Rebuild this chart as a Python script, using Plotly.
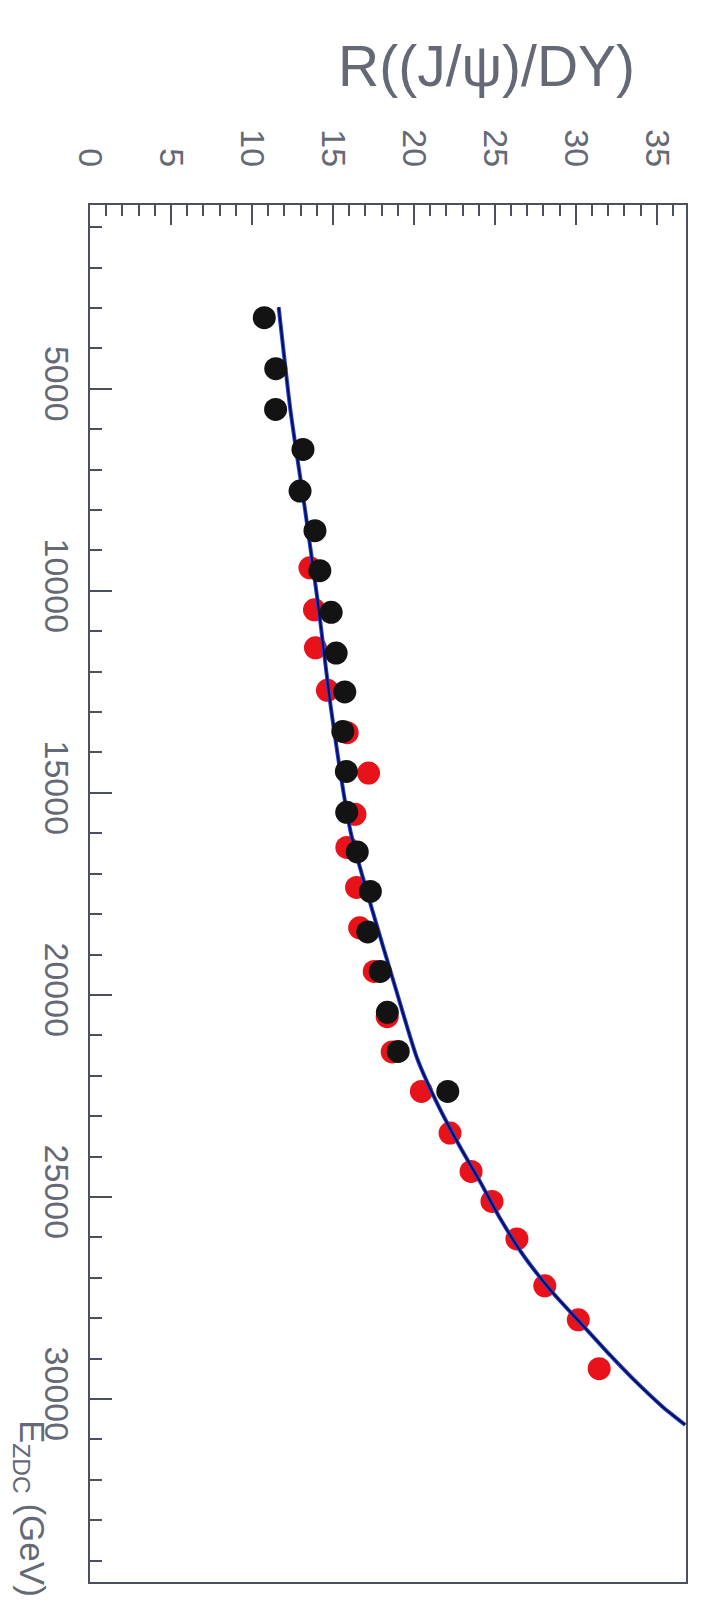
import plotly.graph_objects as go

# ---- data read from the (rotated) picture ----
# black points: E_ZDC (GeV), R((J/psi)/DY)
black_E = [3240, 4500, 5510, 6500, 7530, 8510, 9500, 10530, 11540, 12500,
           13480, 14470, 15480, 16460, 17440, 18440, 19420, 20430, 21400, 22390]
black_R = [10.76, 11.47, 11.46, 13.15, 12.97, 13.89, 14.19, 14.89, 15.20, 15.73,
           15.61, 15.83, 15.85, 16.50, 17.31, 17.15, 17.92, 18.36, 19.03, 22.09]

# red points
red_E = [9430, 10470, 11410, 12460, 13510, 14510, 15530, 16350, 17340, 18340,
         19420, 20540, 21410, 22390, 23420, 24370, 25110, 26040, 27200, 28040, 29250]
red_R = [13.58, 13.86, 13.92, 14.66, 15.88, 17.20, 16.36, 15.86, 16.46, 16.65,
         17.55, 18.35, 18.66, 20.46, 22.23, 23.53, 24.82, 26.36, 28.08, 30.15, 31.44]

# fitted curve
curve_E = [2980, 5540, 8110, 10350, 13000, 15980, 17890, 19810, 21560, 22730,
           23740, 24670, 25510, 26480, 27370, 28140, 28910, 29510, 30190, 30640]
curve_R = [11.65, 12.38, 13.32, 14.09, 14.91, 16.10, 17.42, 18.85, 20.19, 21.49,
           22.82, 24.15, 25.29, 26.82, 28.57, 30.34, 32.10, 33.55, 35.35, 36.75]

R_ticks = [0, 5, 10, 15, 20, 25, 30, 35]
E_ticks = [5000, 10000, 15000, 20000, 25000, 30000]

R_title = "R((J/\u03c8)/DY)"
E_title = "E<sub>ZDC</sub> (GeV)"

FONT = "Liberation Sans, Arial, sans-serif"
GREY = "#646975"
AXC = "#4b505c"

fig = go.Figure()

fig.add_trace(go.Scatter(
    x=red_R, y=red_E, mode="markers",
    marker=dict(color="#e8121b", size=23, line=dict(width=0)),
    showlegend=False))

fig.add_trace(go.Scatter(
    x=curve_R, y=curve_E, mode="lines",
    line=dict(color="#2244e6", width=4, shape="spline", smoothing=0.6),
    showlegend=False))
fig.add_trace(go.Scatter(
    x=curve_R, y=curve_E, mode="lines",
    line=dict(color="#0c0d4a", width=2, shape="spline", smoothing=0.6),
    showlegend=False))

fig.add_trace(go.Scatter(
    x=black_R, y=black_E, mode="markers",
    marker=dict(color="#131313", size=23, line=dict(width=0)),
    showlegend=False))

W, H = 726, 1603
L, Rr, T, B = 82, 678, 197, 1574
pw, ph = Rr - L, B - T

fig.update_layout(
    width=W, height=H, autosize=False,
    margin=dict(l=L, r=W - Rr, t=T, b=H - B, pad=0),
    paper_bgcolor="white", plot_bgcolor="white",
    font=dict(family=FONT, color=GREY),
    xaxis=dict(
        side="top", range=[0, 36.8], tickvals=R_ticks,
        ticktext=[str(v) for v in R_ticks],
        tickangle=90, tickfont=dict(size=34, color=GREY, family=FONT),
        ticks="inside", ticklen=20, tickwidth=2, tickcolor=AXC,
        minor=dict(dtick=1, tick0=0, ticks="inside", ticklen=11, tickwidth=2, tickcolor=AXC),
        showline=True, mirror=True, linecolor=AXC, linewidth=2,
        showgrid=False, zeroline=False, ticklabelstandoff=24,
    ),
    yaxis=dict(
        range=[34530, 450], tickvals=E_ticks,
        ticktext=[str(v) for v in E_ticks],
        tickangle=90, tickfont=dict(size=34, color=GREY, family=FONT),
        ticks="inside", ticklen=22, tickwidth=2, tickcolor=AXC,
        minor=dict(dtick=1000, tick0=0, ticks="inside", ticklen=12, tickwidth=2, tickcolor=AXC),
        showline=True, mirror=True, linecolor=AXC, linewidth=2,
        showgrid=False, zeroline=False, ticklabelstandoff=2,
    ),
    annotations=[
        dict(text=R_title, xref="paper", yref="paper",
             x=(478 - L) / pw, y=(B - 58) / ph, showarrow=False,
             xanchor="center", yanchor="middle",
             font=dict(size=57, color=GREY, family=FONT)),
        dict(text=E_title, xref="paper", yref="paper",
             x=(22 - L) / pw, y=(B - 1500) / ph, showarrow=False,
             xanchor="center", yanchor="middle", textangle=90,
             font=dict(size=35, color=GREY, family=FONT)),
    ],
)

fig.write_html("out.html")
